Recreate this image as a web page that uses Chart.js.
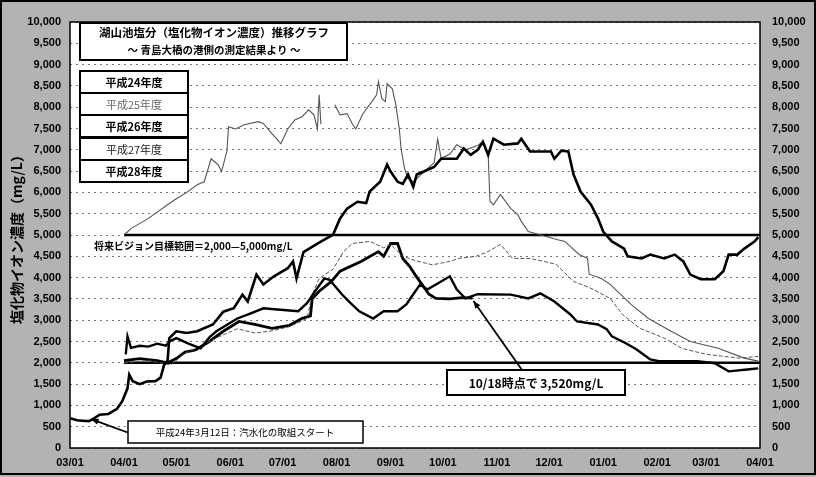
<!DOCTYPE html>
<html><head><meta charset="utf-8">
<script src="https://cdn.jsdelivr.net/npm/chart.js@4.4.1/dist/chart.umd.min.js"></script>
<style>html,body{margin:0;padding:0;background:#fff;}#wrap{width:816px;height:477px;}canvas{display:block;}</style>
</head><body><div id="wrap"><canvas id="c" width="816" height="477"></canvas></div>
<script>
// ---- tick labels / axis ----
const xTickLabels = ["03/01","04/01","05/01","06/01","07/01","08/01","09/01","10/01","11/01","12/01","01/01","02/01","03/01","04/01"];
const yMin = 0, yMax = 10000, yStep = 500;
const seriesNames = ["平成24年度","平成25年度","平成26年度","平成27年度","平成28年度"];

// ---- series data (date MM/DD, chloride mg/L) ----
const h24Dates = ["03/01","03/05","03/08","03/12","03/15","03/18","03/23","03/28","03/31","04/03","04/04","04/06","04/10","04/14","04/19","04/22","04/24","04/26","04/27","05/01","05/07","05/13","05/22","05/28","06/03","06/08","06/11","06/16","06/20","06/26","07/04","07/07","07/09","07/13","07/21","07/30","08/03","08/07","08/13","08/18","08/20","08/26","08/30","09/01","09/05","09/08","09/11","09/14","09/16","09/20","09/26","09/30","10/09","10/13","10/17","10/21","10/24","10/27","10/30","11/05","11/13","11/15","11/20","12/02","12/04","12/08","12/12","12/15","12/19","12/25","12/29","01/01","01/06","01/13","01/15","01/23","01/28","02/05","02/11","02/16","02/20","02/26","03/06","03/11","03/14","03/19","03/23","03/29","03/31"];
const h24Values = [700,650,640,630,700,780,800,920,1100,1400,1720,1570,1500,1560,1570,1650,1950,2050,2580,2740,2700,2740,2900,3200,3280,3600,3440,4070,3840,4030,4220,4380,3980,4600,4800,5010,5390,5620,5780,5750,6020,6250,6650,6490,6250,6200,6420,6130,6420,6490,6600,6790,6790,7030,6880,7000,7190,6880,7260,7120,7150,7260,6960,6960,6790,6980,6960,6420,6020,5710,5390,5080,4850,4680,4500,4450,4540,4450,4540,4380,4070,3960,3960,4150,4540,4540,4680,4850,4950];

const h25Dates = ["04/01","04/05","04/15","04/26","05/01","05/07","05/13","05/17","05/21","05/25","05/27","05/30","05/31","06/04","06/09","06/17","06/20","06/24","06/28","06/30","07/04","07/08","07/12","07/16","07/19","07/21","07/22","07/23","07/26","07/31","08/03","08/07","08/10","08/12","08/16","08/20","08/24","08/25","08/27","08/29","08/30","09/02","09/04","09/06","09/07","09/09","09/11","09/14","09/18","09/22","09/26","09/28","09/30","10/05","10/09","10/14","10/21","10/24","10/27","10/28","10/30","11/03","11/09","11/13","11/15","11/19","12/06","12/10","12/18","12/23","12/24","12/31","01/05","01/17","01/27","02/09","02/20","03/08","03/23","03/31"];
const h25Values = [5000,5150,5390,5710,5850,6000,6180,6250,6790,6650,6490,6960,7540,7490,7590,7660,7620,7420,7240,7140,7490,7700,7770,7940,7820,7490,8290,7600,null,8060,7820,7850,7610,7490,7840,8060,8290,8600,8200,8130,8550,8430,8060,7490,7030,6560,6320,6250,6400,6550,6700,7250,6800,6900,7120,7000,7100,7190,6900,5800,5710,5950,5620,5480,5320,5080,4890,4850,4550,4450,4080,3980,3840,3370,3040,2740,2500,2340,2110,2040];

const h26Dates = ["04/02","04/03","04/05","04/10","04/15","04/20","04/25","04/27","05/01","05/08","05/15","05/20","05/24","06/05","06/12","06/20","06/28","07/10","07/15","07/20","07/25","07/28","08/04","08/08","08/14","08/22","08/28","09/05","09/10","09/14","09/18","09/22","09/28","10/05","10/09","10/14","10/21","11/09","11/19","11/26","12/04","12/13","12/17","12/29","01/03","01/06","01/14","01/20","01/28","02/02","02/24","03/06","03/14","03/26","03/31"];
const h26Values = [2200,2620,2350,2400,2380,2450,2400,2500,2580,2450,2340,2600,2740,3040,3150,3280,3250,3210,3400,3700,3980,3950,3610,3440,3210,3040,3210,3210,3370,3610,3840,3720,3860,4030,3720,3510,3610,3600,3510,3630,3440,3140,2970,2900,2790,2620,2460,2320,2080,2040,2040,1990,1800,1850,1870];

const h27Dates = ["04/01","04/15","04/28","05/05","05/15","05/25","06/05","06/15","06/25","07/05","07/15","07/18","07/22","07/30","08/05","08/10","08/20","08/28","09/01","09/08","09/15","09/25","10/05","10/10","10/20","10/27","11/03","11/10","11/20","11/28","12/05","12/15","12/25","01/05","01/12","01/22","02/05","02/15","03/01","03/20","03/31"];
const h27Values = [2000,2050,1950,2200,2400,2600,2800,2700,2750,2850,3040,3600,3980,4200,4610,4800,4850,4700,4780,4500,4400,4300,4380,4450,4500,4610,4780,4450,4450,4380,4310,3910,3750,3510,3140,2810,2580,2340,2200,2110,2150];

const h28Dates = ["04/01","04/10","04/20","04/26","05/01","05/06","05/12","05/20","05/28","06/06","06/15","06/25","07/05","07/12","07/17","07/18","07/22","07/29","08/03","08/15","08/25","08/28","09/01","09/05","09/08","09/12","09/15","09/19","09/23","09/27","10/05","10/12","10/18"];
const h28Values = [2050,2100,2050,2000,2100,2250,2300,2500,2740,2970,2900,2810,2880,3040,3100,3500,3680,3910,4150,4380,4610,4500,4800,4800,4450,4260,4070,3840,3610,3510,3500,3530,3520];

// target range (将来ビジョン) lines
const targetValues = [2000, 5000];
const targetDates = ["04/01","04/01"];

// ---- helpers ----
function toDays(list){
  let yr = 0, prev = null;
  return list.map(s => {
    const [m,d] = s.split('/').map(Number);
    const key = m*100+d;
    if (prev !== null && key <= prev) yr++;
    prev = key;
    return Math.round((Date.UTC(2001+yr, m-1, d) - Date.UTC(2001,2,1))/86400000);
  });
}
function pts(dates, values){ const xs = toDays(dates); return xs.map((x,i)=>({x, y: values[i]})); }
const xTickDays = toDays(xTickLabels);

const jp = "'Noto Sans CJK JP','Noto Sans',sans-serif";
const lineStyles = [
  {borderColor:'#000', borderWidth:2.6},
  {borderColor:'#555', borderWidth:1.1},
  {borderColor:'#000', borderWidth:2.4},
  {borderColor:'#555', borderWidth:1, borderDash:[4,2]},
  {borderColor:'#000', borderWidth:2.8}
];
const seriesData = [pts(h24Dates,h24Values), pts(h25Dates,h25Values), pts(h26Dates,h26Values), pts(h27Dates,h27Values), pts(h28Dates,h28Values)];
const datasets = seriesData.map((d,i)=>Object.assign({label:seriesNames[i], data:d, pointRadius:0, tension:0, spanGaps:false, fill:false}, lineStyles[i]));
targetValues.forEach(v => datasets.push({label:'target'+v, data: pts(targetDates, [v,v]), borderColor:'#000', borderWidth:2.6, pointRadius:0, fill:false}));

function box(ctx,x,y,w,h,lw){ ctx.fillStyle='#fff'; ctx.fillRect(x,y,w,h); ctx.lineWidth=lw; ctx.strokeStyle='#000'; ctx.strokeRect(x,y,w,h); }
function arrow(ctx,x1,y1,x2,y2){
  ctx.strokeStyle='#000'; ctx.lineWidth=1.8; ctx.beginPath(); ctx.moveTo(x1,y1); ctx.lineTo(x2,y2); ctx.stroke();
  const a=Math.atan2(y2-y1,x2-x1), L=8;
  ctx.fillStyle='#000'; ctx.beginPath(); ctx.moveTo(x2,y2);
  ctx.lineTo(x2-L*Math.cos(a-0.4), y2-L*Math.sin(a-0.4));
  ctx.lineTo(x2-L*Math.cos(a+0.4), y2-L*Math.sin(a+0.4)); ctx.closePath(); ctx.fill();
}

const deco = {
  id:'deco',
  beforeDraw(chart){
    const {ctx, chartArea:a} = chart;
    ctx.save();
    ctx.fillStyle='#b3b3b3'; ctx.fillRect(0,0,chart.width,chart.height);
    ctx.fillStyle='#fff'; ctx.fillRect(a.left,a.top,a.right-a.left,a.bottom-a.top);
    ctx.restore();
  },
  afterDraw(chart){
    const {ctx, chartArea:a, scales} = chart;
    ctx.save();
    // plot frame
    ctx.strokeStyle='#000'; ctx.lineWidth=1.5; ctx.strokeRect(a.left,a.top,a.right-a.left,a.bottom-a.top);
    // outer frame
    ctx.lineWidth=2; ctx.strokeRect(1,1,chart.width-2,chart.height-4);
    // y title
    ctx.save(); ctx.translate(17,236); ctx.rotate(-Math.PI/2);
    ctx.fillStyle='#000'; ctx.font="bold 14px "+jp; ctx.textAlign='center'; ctx.textBaseline='middle';
    ctx.fillText('塩化物イオン濃度（mg/L）',0,0); ctx.restore();
    // title box
    box(ctx,80,23,267,37,2);
    ctx.fillStyle='#000'; ctx.textAlign='center'; ctx.textBaseline='middle';
    ctx.font="bold 11.5px "+jp; ctx.fillText('湖山池塩分（塩化物イオン濃度）推移グラフ',214,33);
    ctx.font="bold 10.5px "+jp; ctx.fillText('～ 青島大橋の港側の測定結果より ～',214,50);
    // legend boxes
    const legStyle = [['bold','#000'],['normal','#666'],['bold','#000'],['normal','#222'],['bold','#000']];
    const tops=[71,93,115,138,160];
    seriesNames.forEach((n,i)=>{
      box(ctx,80,tops[i],108,22,2);
      ctx.fillStyle=legStyle[i][1]; ctx.font=legStyle[i][0]+" 11px "+jp;
      ctx.textAlign='center'; ctx.fillText(n,134,tops[i]+11.5);
    });
    // target label
    ctx.fillStyle='#000'; ctx.textAlign='left'; ctx.font="bold 10px "+jp;
    ctx.fillText('将来ビジョン目標範囲＝2,000—5,000mg/L',94,246);
    // note 1
    const sx = scales.x, sy = scales.y;
    const tipX = sx.getPixelForValue(toDays(["03/12"])[0]), tipY = sy.getPixelForValue(630)-2;
    arrow(ctx,129,433,tipX+2,tipY);
    box(ctx,128,421,235,22,1.5);
    ctx.fillStyle='#000'; ctx.textAlign='center'; ctx.font="9.5px "+jp;
    ctx.fillText('平成24年3月12日：汽水化の取組スタート',245,432.5);
    // note 2
    const last = seriesData[4][seriesData[4].length-1];
    const t2x = sx.getPixelForValue(last.x), t2y = sy.getPixelForValue(last.y)+3;
    arrow(ctx,522,370,t2x+1,t2y);
    box(ctx,447,370,178,25,2);
    ctx.fillStyle='#000'; ctx.font="bold 12px "+jp;
    ctx.fillText('10/18時点で 3,520mg/L',536,383);
    ctx.restore();
  }
};

const fmt = v => Number(v).toLocaleString('en-US');
new Chart(document.getElementById('c'), {
  type:'line',
  data:{datasets},
  plugins:[deco],
  options:{
    responsive:false, animation:false, devicePixelRatio:1,
    layout:{padding:{top:22,left:0,right:0,bottom:0}},
    plugins:{legend:{display:false}, tooltip:{enabled:false}},
    scales:{
      x:{type:'linear', min:0, max:xTickDays[xTickDays.length-1],
        afterBuildTicks(s){ s.ticks = xTickDays.map(v=>({value:v})); },
        afterFit(s){ s.height = 29; },
        grid:{display:false, drawTicks:false}, border:{display:false},
        ticks:{autoSkip:false, maxRotation:0, padding:8, color:'#000', font:{family:'Liberation Sans', size:11, weight:'bold'},
          callback:(v,i)=>xTickLabels[i]}},
      y:{type:'linear', position:'left', min:yMin, max:yMax,
        afterFit(s){ s.width = 70; },
        grid:{color:'#777', lineWidth:1, drawTicks:false}, border:{display:false, dash:[2,4]},
        ticks:{stepSize:yStep, padding:9, color:'#000', font:{family:'Liberation Sans', size:11, weight:'bold'}, callback:fmt}},
      y2:{type:'linear', position:'right', min:yMin, max:yMax,
        afterFit(s){ s.width = 56; },
        grid:{display:false, drawTicks:false}, border:{display:false},
        ticks:{stepSize:yStep, padding:12, color:'#000', font:{family:'Liberation Sans', size:11, weight:'bold'}, callback:fmt}}
    }
  }
});
</script></body></html>
